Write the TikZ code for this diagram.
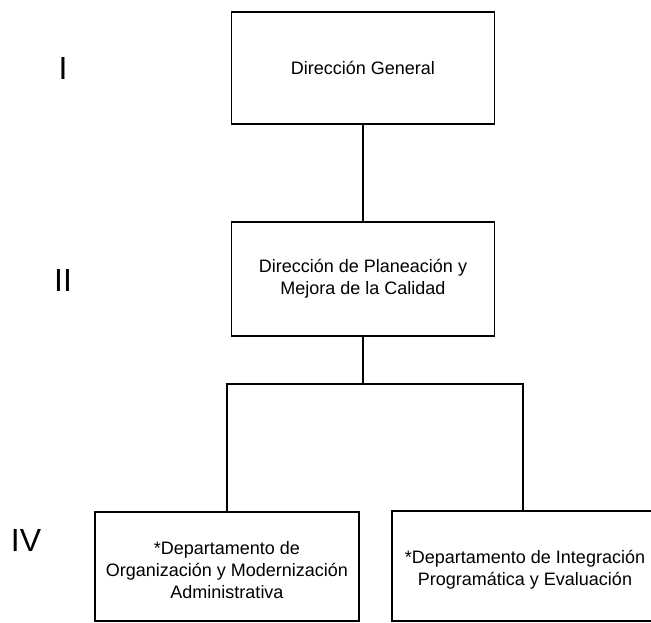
\documentclass[tikz,border=0pt]{standalone}
\usepackage{fontspec}
\setmainfont{Liberation Sans}
\begin{document}
\begin{tikzpicture}[x=1pt,y=-1pt,
  orgbox/.style={draw, line width=1.6pt, inner sep=0pt, align=center,
    font=\fontsize{18}{22}\selectfont, minimum width=#1},
  orgbox/.default=263pt,
  boxtext/.style={inner sep=0pt, align=center, font=\fontsize{18}{22}\selectfont},
  levellabel/.style={inner sep=0pt, font=\fontsize{32}{32}\selectfont},
  conn/.style={line width=1.6pt}]
\useasboundingbox (0,0) rectangle (651,623);
\clip (0,0) rectangle (651,623);
\fill[white] (0,0) rectangle (651,623);
\node[orgbox, minimum height=112pt] (b1) at (363,68) {Dirección General};
\node[orgbox, minimum height=114pt] (b2) at (363,279) {Dirección de Planeación y\\Mejora de la Calidad};
\node[orgbox=264pt, minimum height=109pt] (b3) at (227,566.5) {};
\node[boxtext] (t3) at (227,570.5) {*Departamento de\\Organización y Modernización\\Administrativa};
\node[orgbox=262pt, minimum height=110pt] (b4) at (523,566) {};
\node[boxtext] (t4) at (525,570) {*Departamento de Integración\\Programática y Evaluación};
\node[levellabel] (l1) at (63,68) {I};
\node[levellabel] (l2) at (63,280) {II};
\node[levellabel] (l4) at (26,540) {IV};
\draw[conn] (b1.south) -- (b2.north);
\draw[conn] (b2.south) -- ++(0,47) coordinate (h);
\draw[conn] (b3.north) |- (h) -| (b4.north);
\end{tikzpicture}
\end{document}
